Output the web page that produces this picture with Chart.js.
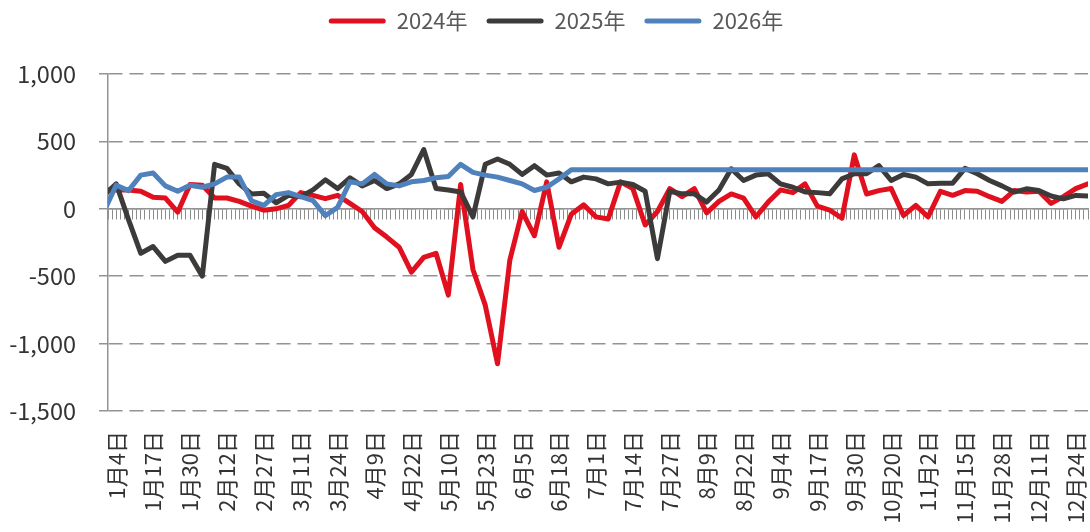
<!DOCTYPE html>
<html>
<head>
<meta charset="utf-8">
<script src="https://cdn.jsdelivr.net/npm/chart.js@4.4.1/dist/chart.umd.min.js"></script>
<style>
  html, body { margin: 0; padding: 0; background: #fff; }
  #wrap { width: 1090px; height: 532px; position: relative; }
</style>
</head>
<body>
<div id="wrap"><canvas id="chart"></canvas></div>
<script>
// axis labels, one every 9 trading days (day index 2, 11, 20 ...)
const tickLabels = [
  "1月4日", "1月17日", "1月30日", "2月12日", "2月27日", "3月11日", "3月24日",
  "4月9日", "4月22日", "5月10日", "5月23日", "6月5日", "6月18日", "7月1日",
  "7月14日", "7月27日", "8月9日", "8月22日", "9月4日", "9月17日", "9月30日",
  "10月20日", "11月2日", "11月15日", "11月28日", "12月11日", "12月24日"
];

// values read every 3 trading days, starting one day before 1月4日's slot
const values2024 = [
  140, 140, 140, 130, 85, 80, -25, 180, 175, 80,
  80, 55, 20, -10, 0, 25, 120, 100, 75, 100,
  40, -20, -140, -210, -285, -470, -360, -330, -640, 180,
  -450, -715, -1150, -380, -20, -200, 200, -285, -40, 30,
  -60, -75, 200, 150, -120, -20, 150, 90, 150, -30,
  55, 110, 80, -60, 50, 140, 120, 185, 20, -10,
  -70, 400, 110, 135, 150, -50, 25, -60, 130, 100,
  135, 130, 90, 55, 135, 125, 130, 40, 90, 150,
  185
];
const values2025 = [
  100, 185, -80, -330, -280, -390, -345, -345, -500, 330,
  300, 185, 110, 115, 45, 100, 90, 140, 215, 150,
  230, 170, 210, 150, 185, 255, 440, 150, 140, 125,
  -60, 330, 370, 330, 255, 320, 250, 265, 200, 235,
  222, 185, 198, 180, 130, -370, 130, 111, 111, 50,
  140, 297, 210, 250, 260, 185, 160, 125, 120, 111,
  222, 260, 260, 320, 210, 255, 235, 185, 190, 190,
  300, 260, 210, 170, 124, 148, 136, 95, 74, 99,
  95
];
const values2026 = [
  -20, 175, 135, 250, 265, 170, 130, 175, 160, 185,
  235, 235, 60, 25, 105, 120, 90, 60, -50, 10,
  200, 185, 255, 185, 170, 200, 210, 230, 240, 330,
  270, 250, 235, 210, 185, 136, 160, 222, 290, 290,
  290, 290, 290, 290, 290, 290, 290, 290, 290, 290,
  290, 290, 290, 290, 290, 290, 290, 290, 290, 290,
  290, 290, 290, 290, 290, 290, 290, 290, 290, 290,
  290, 290, 290, 290, 290, 290, 290, 290, 290, 290,
  290
];

const tickDays = tickLabels.map((_, j) => 2 + 9 * j);
const toPoints = arr => arr.map((v, k) => ({ x: 3 * k - 1, y: v }));

const FONT = '"Noto Sans CJK SC", "Noto Sans", sans-serif';
const GRID = "#939393";
const X_MAX = 239;

function series(label, data, color, order) {
  return {
    label: label,
    data: toPoints(data),
    borderColor: color,
    backgroundColor: color,
    borderWidth: 5,
    pointRadius: 0,
    tension: 0,
    borderJoinStyle: "round",
    borderCapStyle: "round",
    order: order
  };
}

// extra space under the legend, and nudge it a bit right
const legendGap = {
  id: "legendGap",
  beforeInit(chart) {
    const fit = chart.legend.fit;
    chart.legend.fit = function () {
      fit.call(this);
      this.height += 32;
    };
  },
  afterLayout(chart) {
    chart.legend.left += 12;
    chart.legend.right += 12;
  }
};

new Chart(document.getElementById("chart"), {
  type: "line",
  data: {
    datasets: [
      series("2024年", values2024, "#e0101e", 2),
      series("2025年", values2025, "#3d3a3a", 1),
      series("2026年", values2026, "#4f81bd", 0)
    ]
  },
  plugins: [legendGap],
  options: {
    responsive: true,
    maintainAspectRatio: false,
    animation: false,
    layout: { padding: { top: -9, right: 2, left: 0, bottom: 0 } },
    plugins: {
      tooltip: { enabled: false },
      legend: {
        position: "top",
        labels: {
          font: { family: FONT, size: 22 },
          color: "#595959",
          boxWidth: 57,
          boxHeight: 5,
          useBorderRadius: true,
          borderRadius: 2.5,
          padding: 19,
          sort: (a, b) => a.datasetIndex - b.datasetIndex,
          generateLabels: chart =>
            Chart.defaults.plugins.legend.labels.generateLabels(chart)
              .map(l => Object.assign(l, { lineWidth: 0 }))
        }
      }
    },
    scales: {
      x: {
        type: "linear",
        min: 0,
        max: X_MAX,
        afterBuildTicks: s => { s.ticks = tickDays.map(v => ({ value: v })); },
        afterFit: s => { s.height = 121; s.paddingLeft = 0; s.paddingRight = 0; },
        ticks: {
          autoSkip: false,
          maxRotation: 90,
          minRotation: 90,
          padding: 20,
          color: "#333",
          font: { family: FONT, size: 22 },
          callback: (v, i) => tickLabels[i]
        },
        grid: { display: false, drawTicks: false },
        border: { display: false }
      },
      x0: {
        type: "linear",
        axis: "x",
        min: 0,
        max: X_MAX,
        position: { y: 0 },
        ticks: { display: false, stepSize: 1, autoSkip: false },
        grid: { drawOnChartArea: false, drawTicks: true, tickLength: 10, color: "#8c8c8c", lineWidth: 1 },
        border: { display: true, color: GRID, width: 1.5 }
      },
      y: {
        min: -1500,
        max: 1000,
        afterFit: s => { s.width = 108; },
        ticks: {
          stepSize: 500,
          padding: 23,
          color: "#333",
          font: { family: FONT, size: 23.5 },
          callback: v => v.toLocaleString("en-US")
        },
        grid: { color: GRID, lineWidth: 1.5, tickLength: 9, tickColor: GRID },
        border: { display: true, color: GRID, width: 1.5, dash: [14, 7] }
      }
    }
  }
});
</script>
</body>
</html>
